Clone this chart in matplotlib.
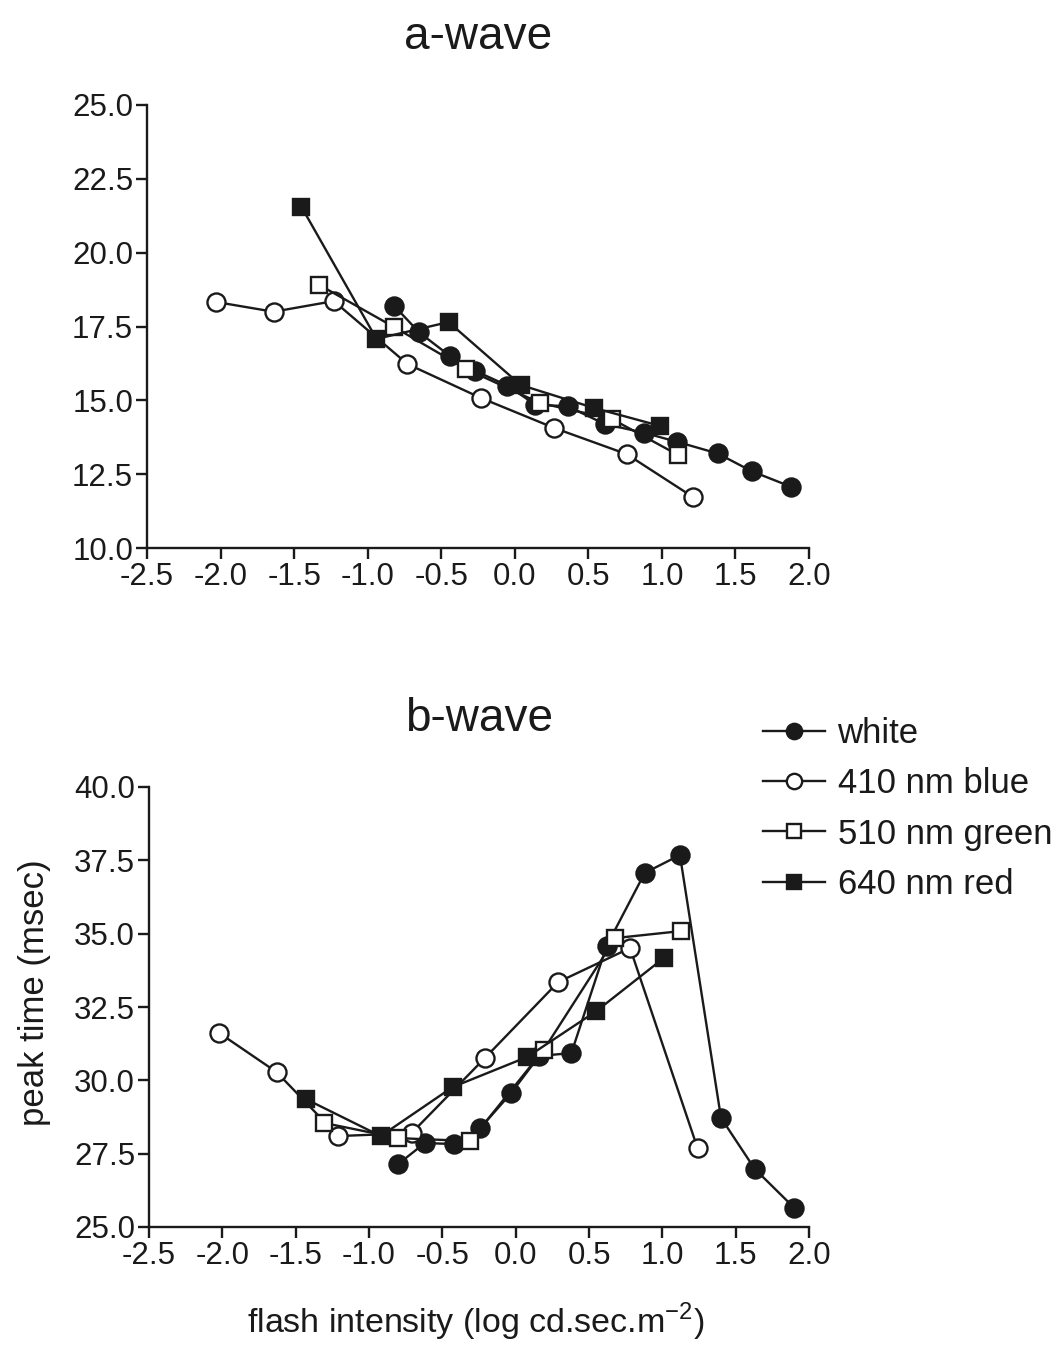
import matplotlib
matplotlib.use("Agg")
import matplotlib.pyplot as plt
from matplotlib.lines import Line2D

plt.rcParams['font.family'] = ['Liberation Sans', 'DejaVu Sans']

# ---- a-wave data ----
a_white_x = [-0.82, -0.65, -0.44, -0.27, -0.05, 0.14, 0.36, 0.61, 0.88, 1.10, 1.38, 1.61, 1.88]
a_white_y = [18.2, 17.3, 16.5, 16.0, 15.5, 14.85, 14.8, 14.2, 13.9, 13.6, 13.2, 12.6, 12.07]
a_blue_x = [-2.03, -1.64, -1.23, -0.73, -0.23, 0.27, 0.76, 1.21]
a_blue_y = [18.33, 18.0, 18.36, 16.23, 15.08, 14.06, 13.18, 11.73]
a_green_x = [-1.33, -0.82, -0.33, 0.17, 0.66, 1.11]
a_green_y = [18.91, 17.48, 16.06, 14.91, 14.37, 13.15]
a_red_x = [-1.45, -0.94, -0.45, 0.04, 0.54, 0.99]
a_red_y = [21.55, 17.08, 17.65, 15.52, 14.74, 14.13]

# ---- b-wave data ----
b_white_x = [-0.80, -0.62, -0.42, -0.24, -0.03, 0.16, 0.38, 0.62, 0.88, 1.12, 1.40, 1.63, 1.90]
b_white_y = [27.15, 27.86, 27.83, 28.38, 29.57, 30.83, 30.93, 34.58, 37.07, 37.68, 28.72, 26.98, 25.65]
b_blue_x = [-2.02, -1.63, -1.21, -0.71, -0.21, 0.29, 0.78, 1.24]
b_blue_y = [31.61, 30.28, 28.1, 28.2, 30.76, 33.35, 34.51, 27.69]
b_green_x = [-1.31, -0.80, -0.31, 0.19, 0.68, 1.13]
b_green_y = [28.55, 28.03, 27.93, 31.03, 34.85, 35.09]
b_red_x = [-1.43, -0.92, -0.43, 0.08, 0.55, 1.01]
b_red_y = [29.36, 28.1, 29.77, 30.8, 32.36, 34.17]

labels = ["white", "410 nm blue", "510 nm green", "640 nm red"]
x_ticks = [-2.5, -2.0, -1.5, -1.0, -0.5, 0.0, 0.5, 1.0, 1.5, 2.0]
a_yticks = [10.0, 12.5, 15.0, 17.5, 20.0, 22.5, 25.0]
b_yticks = [25.0, 27.5, 30.0, 32.5, 35.0, 37.5, 40.0]

W, H = 1059, 1350
fig = plt.figure(figsize=(W / 100, H / 100), dpi=100)

def ax_rect(l, r, t, b):
    return [l / W, 1 - b / H, (r - l) / W, (b - t) / H]

ax1 = fig.add_axes(ax_rect(147, 809, 105, 548))
ax2 = fig.add_axes(ax_rect(149, 809, 787, 1227))

INK = '#1a1a1a'
styles = [
    dict(marker='o', mfc=INK, mec=INK, ms=13),
    dict(marker='o', mfc='white', mec=INK, ms=13),
    dict(marker='s', mfc='white', mec=INK, ms=12),
    dict(marker='s', mfc=INK, mec=INK, ms=12),
]

def draw(ax, series):
    for (xs, ys), st in zip(series, styles):
        ax.plot(xs, ys, color=INK, lw=1.7, mew=1.7, clip_on=False, **st)

draw(ax1, [(a_white_x, a_white_y), (a_blue_x, a_blue_y), (a_green_x, a_green_y), (a_red_x, a_red_y)])
draw(ax2, [(b_white_x, b_white_y), (b_blue_x, b_blue_y), (b_green_x, b_green_y), (b_red_x, b_red_y)])

for ax, yt, title in [(ax1, a_yticks, "a-wave"), (ax2, b_yticks, "b-wave")]:
    ax.set_xlim(-2.5, 2.0)
    ax.set_ylim(yt[0], yt[-1])
    ax.set_xticks(x_ticks)
    ax.set_xticklabels([f"{v:.1f}" for v in x_ticks])
    ax.set_yticks(yt)
    ax.set_yticklabels([f"{v:.1f}" for v in yt])
    for s in ['top', 'right']:
        ax.spines[s].set_visible(False)
    for s in ['left', 'bottom']:
        ax.spines[s].set_linewidth(1.7)
        ax.spines[s].set_color(INK)
    ax.tick_params(direction='out', length=8, width=1.7, labelsize=22.5, colors=INK, pad=2)
    ax.set_title(title, fontsize=33, pad=40, color=INK)

fig.text(35 / W, 1 - 993 / H, "peak time (msec)", rotation=90, fontsize=25,
         ha='center', va='center', color=INK)
fig.text(476 / W, 1 - 1322 / H, r"flash intensity (log cd.sec.m$^{\mathregular{-2}}$)", fontsize=24.5,
         ha='center', va='center', color=INK)

handles = [Line2D([], [], color=INK, lw=1.7, mew=1.7,
                  **{**st, 'ms': st['ms'] * 0.85}) for st in styles]
fig.legend(handles, labels, loc='upper left', bbox_to_anchor=(749 / W, 1 - 703 / H),
           frameon=False, fontsize=25, handlelength=1.8, handletextpad=0.35,
           labelspacing=0.5, borderaxespad=0, labelcolor=INK)

fig.savefig("out.png", dpi=100)
